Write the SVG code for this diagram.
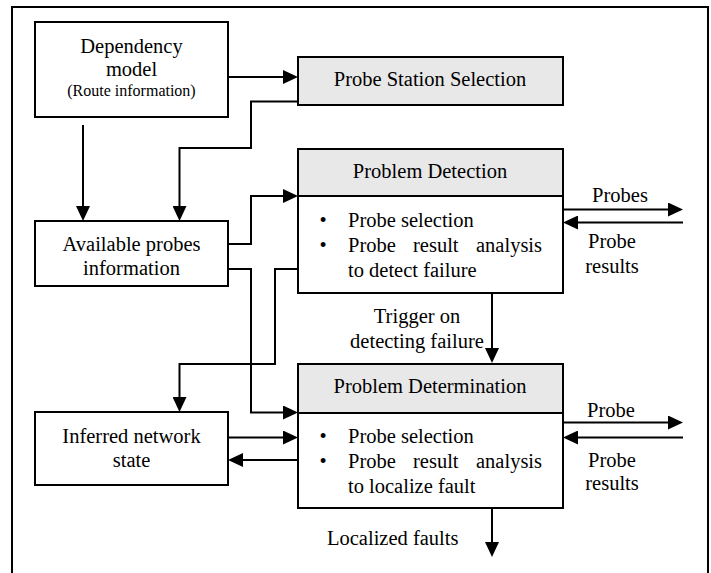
<svg xmlns="http://www.w3.org/2000/svg" width="711" height="573" viewBox="0 0 711 573" font-family="'Liberation Serif', 'DejaVu Serif', serif">
<defs>
<marker id="ah" markerUnits="userSpaceOnUse" markerWidth="15" markerHeight="14" refX="7" refY="7" orient="auto">
<path d="M0,0 L15,7 L0,14 z" fill="#000"/>
</marker>
<style>
text{font-family:'Liberation Serif','DejaVu Serif',serif;font-size:20.5px;fill:#000}
.c{text-anchor:middle}
.s{font-size:16px}
.box{fill:#fff;stroke:#000;stroke-width:2}
.hdr{fill:#e8e8e8;stroke:#000;stroke-width:2}
.ar{fill:none;stroke:#000;stroke-width:2;marker-end:url(#ah)}
</style>
</defs>
<rect x="0" y="0" width="711" height="573" fill="#fff"/>
<rect x="12" y="7" width="696" height="580" fill="none" stroke="#000" stroke-width="2"/>

<g id="dependency-model">
<rect class="box" x="35" y="22" width="193" height="95"/>
<text class="c" x="131.5" y="53">Dependency</text>
<text class="c" x="131.5" y="76">model</text>
<text class="c s" x="131.5" y="96">(Route information)</text>
</g>

<g id="probe-station-selection">
<rect class="hdr" x="298" y="57" width="265" height="48"/>
<text class="c" x="430" y="86">Probe Station Selection</text>
</g>

<g id="available-probes">
<rect class="box" x="35" y="221" width="193" height="65"/>
<text class="c" x="131.5" y="251">Available probes</text>
<text class="c" x="131.5" y="275">information</text>
</g>

<g id="inferred-network-state">
<rect class="box" x="35" y="412" width="193" height="73"/>
<text class="c" x="131.5" y="443">Inferred network</text>
<text class="c" x="131.5" y="467">state</text>
</g>

<g id="problem-detection">
<rect class="box" x="298" y="149" width="265" height="144"/>
<rect class="hdr" x="298" y="149" width="265" height="47"/>
<text class="c" x="430" y="178">Problem Detection</text>
<text class="c" x="323" y="227">•</text>
<text x="348" y="227">Probe selection</text>
<text class="c" x="323" y="252">•</text>
<text y="252"><tspan x="348">Probe</tspan><tspan x="413">result</tspan><tspan x="476">analysis</tspan></text>
<text x="348" y="277">to detect failure</text>
</g>

<g id="problem-determination">
<rect class="box" x="298" y="364" width="265" height="144"/>
<rect class="hdr" x="298" y="364" width="265" height="49"/>
<text class="c" x="430" y="393">Problem Determination</text>
<text class="c" x="323" y="443">•</text>
<text x="348" y="443">Probe selection</text>
<text class="c" x="323" y="468">•</text>
<text y="468"><tspan x="348">Probe</tspan><tspan x="413">result</tspan><tspan x="476">analysis</tspan></text>
<text x="348" y="493">to localize fault</text>
</g>

<g id="connectors">
<path class="ar" d="M228,77 H290"/>
<path class="ar" d="M83,125 V213"/>
<path class="ar" d="M298,101.5 H251 V148 H179.5 V213"/>
<path class="ar" d="M228,244 H251 V196 H290"/>
<path class="ar" d="M228,269 H251 V412.5 H290"/>
<path class="ar" d="M298,269 H275 V364 H179.5 V404"/>
<path class="ar" d="M228,437.5 H290"/>
<path class="ar" d="M298,460 H236"/>
<path class="ar" d="M492,293 V355"/>
<path class="ar" d="M492,508 V549"/>
<path class="ar" d="M563,209.5 H675"/>
<path class="ar" d="M683,222.5 H571"/>
<path class="ar" d="M563,422.5 H675"/>
<path class="ar" d="M683,437.5 H571"/>
<text class="c" x="620" y="202">Probes</text>
<text class="c" x="612" y="248">Probe</text>
<text class="c" x="612" y="273">results</text>
<text class="c" x="611" y="417">Probe</text>
<text class="c" x="612" y="467">Probe</text>
<text class="c" x="612" y="490">results</text>
<text class="c" x="417" y="323">Trigger on</text>
<text class="c" x="417" y="348">detecting failure</text>
<text x="327" y="545">Localized faults</text>
</g>
</svg>
